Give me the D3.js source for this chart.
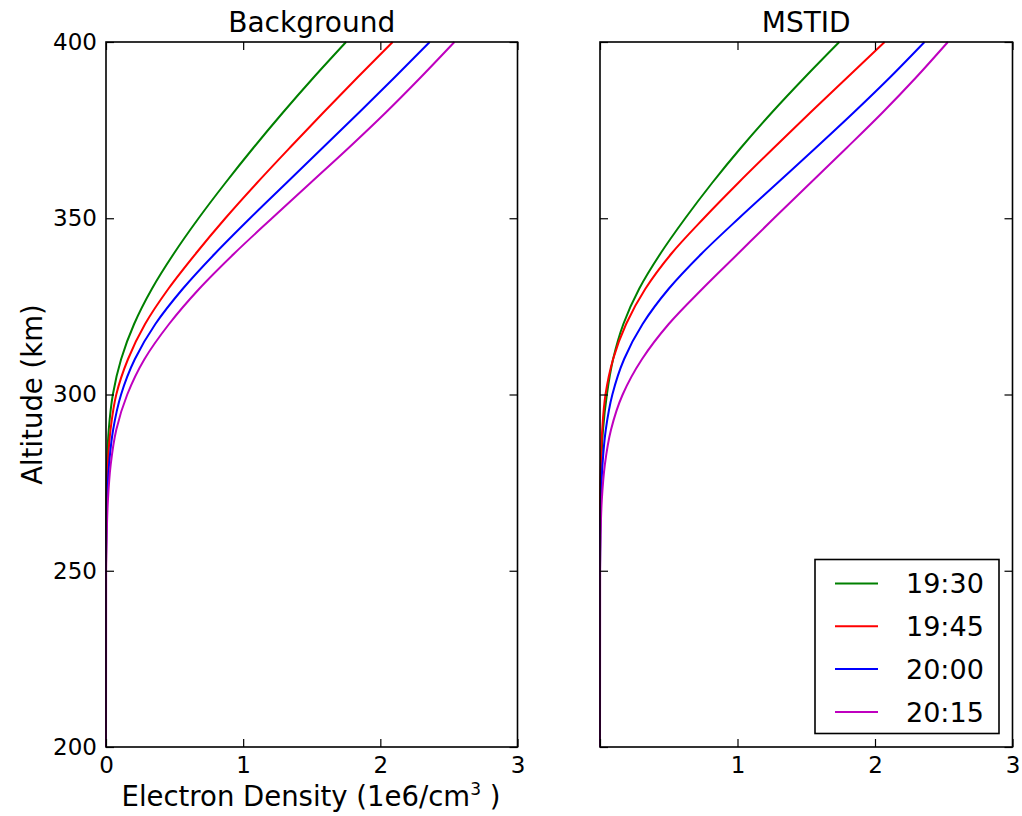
<!DOCTYPE html>
<html>
<head>
<meta charset="utf-8">
<script src="https://cdn.jsdelivr.net/npm/d3@7"></script>
<style>
  body { margin: 0; background: #fff; }
  svg text { font-family: "DejaVu Sans", sans-serif; fill: #000; }
</style>
</head>
<body>
<div id="chart"></div>
<script>
// Data ---------------------------------------
var altitudes = [200, 250, 260, 270, 280, 290, 300, 310, 320, 330, 340, 350, 360, 370, 380, 390, 400];
var times = ['19:30', '19:45', '20:00', '20:15'];
var colors = ['#008000', '#ff0000', '#0000ff', '#bf00bf'];

// Background panel, electron density (1e6/cm^3) per altitude
var bg1930 = [0, 0, 0.0005, 0.002, 0.007, 0.02, 0.05, 0.11, 0.205, 0.335, 0.495, 0.675, 0.87, 1.075, 1.29, 1.515, 1.75];
var bg1945 = [0, 0, 0.0015, 0.005, 0.013, 0.033, 0.075, 0.16, 0.285, 0.455, 0.655, 0.87, 1.10, 1.34, 1.585, 1.835, 2.09];
var bg2000 = [0, 0, 0.0025, 0.008, 0.022, 0.052, 0.11, 0.21, 0.36, 0.56, 0.795, 1.05, 1.315, 1.58, 1.845, 2.105, 2.36];
var bg2015 = [0, 0.001, 0.005, 0.014, 0.034, 0.075, 0.155, 0.28, 0.46, 0.68, 0.935, 1.21, 1.49, 1.77, 2.04, 2.295, 2.54];

// MSTID panel
var ms1930 = [0, 0, 0.001, 0.003, 0.009, 0.022, 0.05, 0.095, 0.17, 0.285, 0.44, 0.62, 0.815, 1.025, 1.25, 1.49, 1.74];
var ms1945 = [0, 0, 0.0005, 0.002, 0.006, 0.016, 0.04, 0.095, 0.19, 0.33, 0.52, 0.755, 1.005, 1.265, 1.53, 1.80, 2.07];
var ms2000 = [0, 0, 0.002, 0.007, 0.018, 0.042, 0.09, 0.175, 0.31, 0.50, 0.74, 1.01, 1.29, 1.57, 1.845, 2.11, 2.36];
var ms2015 = [0, 0.001, 0.004, 0.013, 0.035, 0.08, 0.165, 0.305, 0.50, 0.745, 1.005, 1.265, 1.53, 1.795, 2.055, 2.30, 2.53];

var xTicks = [0, 1, 2, 3];
var yTicks = [200, 250, 300, 350, 400];
// END data -----------------------------------

var width = 1022, height = 816;
var top_ = 42, bottom = 747;

var svg = d3.select('#chart').append('svg')
    .attr('width', width)
    .attr('height', height);

var yScale = d3.scaleLinear().domain([200, 400]).range([bottom, top_]);

var panels = [
  {title: 'Background', left: 106, right: 517.5, series: [bg1930, bg1945, bg2000, bg2015], yLabels: true, xTickLabels: [0, 1, 2, 3]},
  {title: 'MSTID', left: 600, right: 1012.5, series: [ms1930, ms1945, ms2000, ms2015], yLabels: false, xTickLabels: [1, 2, 3]}
];

panels.forEach(function(p) {
  var xScale = d3.scaleLinear().domain([0, 3]).range([p.left, p.right]);
  var g = svg.append('g');

  // curves
  var line = d3.line()
      .x(function(d) { return xScale(d[0]); })
      .y(function(d) { return yScale(d[1]); })
      .curve(d3.curveMonotoneY);

  p.series.forEach(function(vals, i) {
    var pts = altitudes.map(function(a, j) { return [vals[j], a]; });
    g.append('path')
      .attr('d', line(pts))
      .attr('fill', 'none')
      .attr('stroke', colors[i])
      .attr('stroke-width', 2);
  });

  // ticks, inward on all four sides
  var tickStyle = function(sel) {
    sel.select('.domain').remove();
    sel.selectAll('.tick line').attr('stroke', '#000').attr('stroke-width', 1.2);
    sel.selectAll('.tick text').style('font-size', '23px').style('font-family', '"DejaVu Sans", sans-serif');
  };

  g.append('g')
    .attr('transform', 'translate(0,' + bottom + ')')
    .call(d3.axisBottom(xScale).tickValues(xTicks).tickSize(-8).tickPadding(10)
      .tickFormat(function(d) { return p.xTickLabels.indexOf(d) >= 0 ? d : ''; }))
    .call(tickStyle);

  g.append('g')
    .attr('transform', 'translate(0,' + top_ + ')')
    .call(d3.axisTop(xScale).tickValues(xTicks).tickSize(-8).tickFormat(''))
    .call(tickStyle);

  g.append('g')
    .attr('transform', 'translate(' + p.left + ',0)')
    .call(d3.axisLeft(yScale).tickValues(yTicks).tickSize(-8).tickPadding(9)
      .tickFormat(function(d) { return p.yLabels ? d : ''; }))
    .call(tickStyle);

  g.append('g')
    .attr('transform', 'translate(' + p.right + ',0)')
    .call(d3.axisRight(yScale).tickValues(yTicks).tickSize(-8).tickFormat(''))
    .call(tickStyle);

  // frame
  g.append('rect')
    .attr('x', p.left).attr('y', top_)
    .attr('width', p.right - p.left).attr('height', bottom - top_)
    .attr('fill', 'none').attr('stroke', '#000').attr('stroke-width', 1.6);

  // title
  g.append('text')
    .attr('x', (p.left + p.right) / 2).attr('y', 32)
    .attr('text-anchor', 'middle')
    .style('font-size', '28px')
    .text(p.title);
});

// x label
var xl = svg.append('text')
    .attr('x', 311).attr('y', 806)
    .attr('text-anchor', 'middle')
    .style('font-size', '27.5px');
xl.append('tspan').text('Electron Density (1e6/cm');
xl.append('tspan').attr('dy', -11).style('font-size', '17px').text('3');
xl.append('tspan').attr('dy', 11).text(' )');

// y label
svg.append('text')
    .attr('transform', 'translate(42,394.5) rotate(-90)')
    .attr('text-anchor', 'middle')
    .style('font-size', '27.5px')
    .text('Altitude (km)');

// legend
var legend = svg.append('g');
legend.append('rect')
    .attr('x', 815).attr('y', 559.5)
    .attr('width', 184).attr('height', 174)
    .attr('fill', '#fff').attr('stroke', '#000').attr('stroke-width', 1.6);

times.forEach(function(t, i) {
  var yy = 583.5 + i * 42.8;
  legend.append('line')
    .attr('x1', 835).attr('x2', 878)
    .attr('y1', yy).attr('y2', yy)
    .attr('stroke', colors[i]).attr('stroke-width', 2);
  legend.append('text')
    .attr('x', 906).attr('y', yy)
    .attr('dy', '0.36em')
    .style('font-size', '27px')
    .text(t);
});
</script>
</body>
</html>
